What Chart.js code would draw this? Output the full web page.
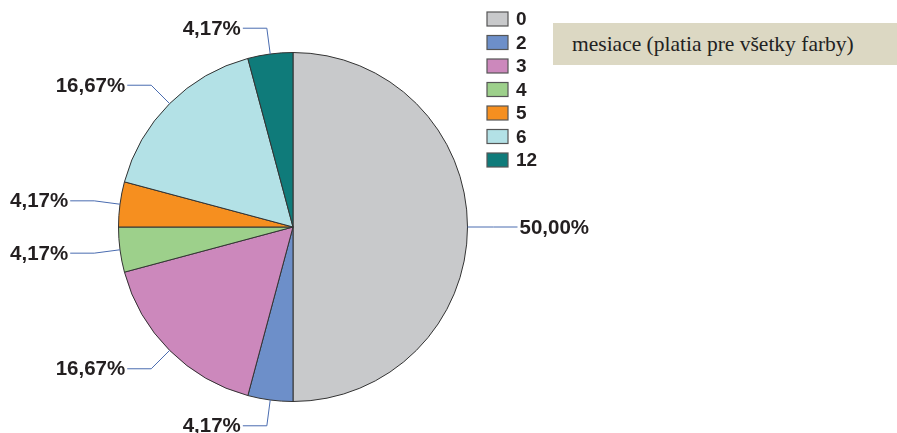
<!DOCTYPE html>
<html>
<head>
<meta charset="utf-8">
<script src="https://cdn.jsdelivr.net/npm/chart.js@4/dist/chart.umd.min.js"></script>
<style>
  body { margin: 0; background: #fff; }
  #wrap { position: relative; width: 897px; height: 433px; }
  #note {
    position: absolute; left: 553px; top: 23px; width: 344px; height: 42px;
    background: #dcd8c3; font-family: "Liberation Serif", "Times New Roman", serif;
    font-size: 21.5px; color: #222; line-height: 42px; padding-left: 19px; box-sizing: border-box;
  }
</style>
</head>
<body>
<div id="wrap">
  <canvas id="myChart" width="897" height="433"></canvas>
  <div id="note">mesiace (platia pre všetky farby)</div>
</div>
<script>
var kategorie = ['0', '2', '3', '4', '5', '6', '12'];
var pocty = [12, 1, 4, 1, 1, 4, 1];
var farby = ['#c8c9cb', '#6d8fc9', '#cc88bc', '#9dd08b', '#f68f1f', '#b3e1e6', '#0f7b7a'];

// popisky s ciarami + legenda
var popiskyPlugin = {
    id: 'popisky',
    afterDatasetsDraw: function(chart) {
        var ctx = chart.ctx;
        var meta = chart.getDatasetMeta(0);
        var spolu = pocty.reduce(function(a, b) { return a + b; }, 0);
        ctx.save();
        ctx.font = 'bold 20.5px "Liberation Sans", Arial, sans-serif';
        ctx.textBaseline = 'middle';
        meta.data.forEach(function(arc, i) {
            var uhol = (arc.startAngle + arc.endAngle) / 2;
            var r = arc.outerRadius;
            var x1 = arc.x + Math.cos(uhol) * r, y1 = arc.y + Math.sin(uhol) * r;
            var x2 = arc.x + Math.cos(uhol) * (r + 26), y2 = arc.y + Math.sin(uhol) * (r + 26);
            var vpravo = Math.cos(uhol) >= 0;
            var x3 = x2 + (vpravo ? 24 : -24);
            ctx.strokeStyle = '#4a6cb0';
            ctx.lineWidth = 1;
            ctx.beginPath();
            ctx.moveTo(x1, y1);
            ctx.lineTo(x2, y2);
            ctx.lineTo(x3, y2);
            ctx.stroke();
            var text = (pocty[i] / spolu * 100).toFixed(2).replace('.', ',') + '%';
            ctx.fillStyle = '#231f20';
            ctx.textAlign = vpravo ? 'left' : 'right';
            ctx.fillText(text, x3 + (vpravo ? 2 : -2), y2 + 1);
        });
        // legenda
        ctx.font = 'bold 19px "Liberation Sans", Arial, sans-serif';
        ctx.textAlign = 'left';
        kategorie.forEach(function(k, i) {
            var y = 19 + i * 23.5;
            ctx.fillStyle = farby[i];
            ctx.fillRect(487, y - 7, 21, 14);
            ctx.strokeStyle = '#555';
            ctx.lineWidth = 1.2;
            ctx.strokeRect(487, y - 7, 21, 14);
            ctx.fillStyle = '#231f20';
            ctx.fillText(k, 516, y + 1);
        });
        ctx.restore();
    }
};

window.onload = function() {
    var ctx = document.getElementById('myChart').getContext('2d');
    window.myPie = new Chart(ctx, {
        type: 'pie',
        data: {
            labels: kategorie,
            datasets: [{
                data: pocty,
                backgroundColor: farby,
                borderColor: '#333',
                borderWidth: 1
            }]
        },
        options: {
            responsive: false,
            animation: false,
            devicePixelRatio: 1,
            layout: { padding: { left: 118, right: 429, top: 52, bottom: 31 } },
            plugins: {
                legend: { display: false },
                tooltip: { enabled: false }
            }
        },
        plugins: [popiskyPlugin]
    });
};
</script>
</body>
</html>
